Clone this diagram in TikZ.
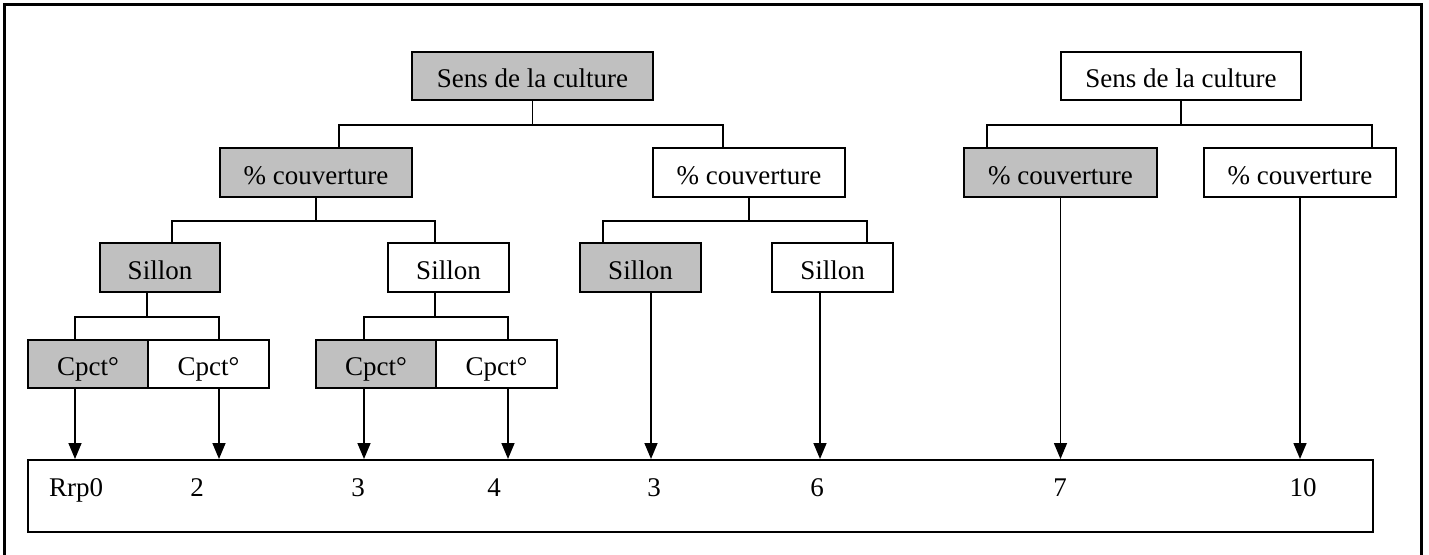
\documentclass[tikz,border=0pt]{standalone}
\usepackage{fontspec}
\setmainfont{Liberation Serif}
\usetikzlibrary{arrows.meta,calc}
\definecolor{boxgray}{RGB}{192,192,192}
\begin{document}
\begin{tikzpicture}[x=1pt,y=-1pt,
  box/.style={draw=black,line width=2pt,inner sep=0pt,minimum height=48pt,
    text height=23pt,text depth=0pt,font=\fontsize{27}{30}\selectfont},
  gbox/.style={box,fill=boxgray},
  wbox/.style={box,fill=white},
  conn/.style={line width=1.6pt},
  arr/.style={line width=1.6pt,-{Triangle[length=16pt,width=13pt]}},
  lab/.style={anchor=base,inner sep=0pt,font=\fontsize{27}{30}\selectfont}]
\useasboundingbox (0,0) rectangle (1429,554);
% outer frame
\draw[line width=3pt] (4.5,556) -- (4.5,4.5) -- (1421,4.5) -- (1421,556);

% level 1
\node[gbox,minimum width=241pt] (r1) at (532.5,76) {Sens de la culture};
\node[wbox,minimum width=240pt] (r2) at (1181,76) {Sens de la culture};
% level 2
\node[gbox,minimum width=192pt,minimum height=49pt] (c1) at (316,172.5) {\% couverture};
\node[wbox,minimum width=192pt,minimum height=49pt] (c2) at (749,172.5) {\% couverture};
\node[gbox,minimum width=193pt,minimum height=49pt] (c3) at (1060.5,172.5) {\% couverture};
\node[wbox,minimum width=192pt,minimum height=49pt] (c4) at (1300,172.5) {\% couverture};
% level 3
\node[gbox,minimum width=120pt,minimum height=49pt] (s1) at (160,267.5) {Sillon};
\node[wbox,minimum width=121pt,minimum height=49pt] (s2) at (448.5,267.5) {Sillon};
\node[gbox,minimum width=121pt,minimum height=49pt] (s3) at (640.5,267.5) {Sillon};
\node[wbox,minimum width=121pt,minimum height=49pt] (s4) at (832.5,267.5) {Sillon};
% level 4
\node[gbox,minimum width=120pt] (p1) at (88,364) {Cpct°};
\node[wbox,minimum width=121pt] (p2) at (208.5,364) {Cpct°};
\node[gbox,minimum width=120pt] (p3) at (376,364) {Cpct°};
\node[wbox,minimum width=121pt] (p4) at (496.5,364) {Cpct°};
% bottom box
\node[draw=black,line width=2pt,minimum width=1345pt,minimum height=72pt,inner sep=0pt] (bot) at (700.5,496) {};

% connection points
\coordinate (c1in) at ($(c1.north west)+(120,0)$);
\coordinate (c2in) at ($(c2.north west)+(71,0)$);
\coordinate (c3in) at ($(c3.north west)+(24,0)$);
\coordinate (c4in) at ($(c4.north west)+(169,0)$);
\coordinate (s1in) at ($(s1.north west)+(73,0)$);
\coordinate (s2in) at ($(s2.north west)+(48,0)$);
\coordinate (s3in) at ($(s3.north west)+(24,0)$);
\coordinate (s4in) at ($(s4.north west)+(96,0)$);
\coordinate (p1in) at ($(p1.north west)+(48,0)$);
\coordinate (p2in) at ($(p2.north west)+(72,0)$);
\coordinate (p3in) at ($(p3.north west)+(49,0)$);
\coordinate (p4in) at ($(p4.north west)+(73,0)$);

% tree connectors
\draw[conn] (r1.south) -- ++(0,24) coordinate (j1);
\draw[conn] (c1in) |- (j1) -| (c2in);
\draw[conn] (r2.south) -- ++(0,24) coordinate (j2);
\draw[conn] (c3in) |- (j2) -| (c4in);
\draw[conn] ($(c1.south west)+(97,0)$) coordinate (c1out) -- ++(0,23) coordinate (j3);
\draw[conn] (s1in) |- (j3) -| (s2in);
\draw[conn] (c2.south) -- ++(0,23) coordinate (j4);
\draw[conn] (s3in) |- (j4) -| (s4in);
\draw[conn] ($(s1.south west)+(48,0)$) coordinate (s1out) -- ++(0,24) coordinate (j5);
\draw[conn] (p1in) |- (j5) -| (p2in);
\draw[conn] ($(s2.south west)+(48,0)$) coordinate (s2out) -- ++(0,24) coordinate (j6);
\draw[conn] (p3in) |- (j6) -| (p4in);

% arrows
\draw[arr] ($(p1.south west)+(48,0)$) coordinate (a1) -- (a1 |- bot.north);
\draw[arr] ($(p2.south west)+(72,0)$) coordinate (a2) -- (a2 |- bot.north);
\draw[arr] ($(p3.south west)+(49,0)$) coordinate (a3) -- (a3 |- bot.north);
\draw[arr] ($(p4.south west)+(73,0)$) coordinate (a4) -- (a4 |- bot.north);
\draw[arr] ($(s3.south west)+(72,0)$) coordinate (a5) -- (a5 |- bot.north);
\draw[arr] ($(s4.south west)+(49,0)$) coordinate (a6) -- (a6 |- bot.north);
\draw[arr] (c3.south) -- (c3.south |- bot.north);
\draw[arr] (c4.south) -- (c4.south |- bot.north);

% values
\node[lab] (v1) at (76,496) {Rrp0};
\node[lab] (v2) at (197,496) {2};
\node[lab] (v3) at (358,496) {3};
\node[lab] (v4) at (494,496) {4};
\node[lab] (v5) at (654,496) {3};
\node[lab] (v6) at (817,496) {6};
\node[lab] (v7) at (1060,496) {7};
\node[lab] (v8) at (1303,496) {10};
\end{tikzpicture}
\end{document}
